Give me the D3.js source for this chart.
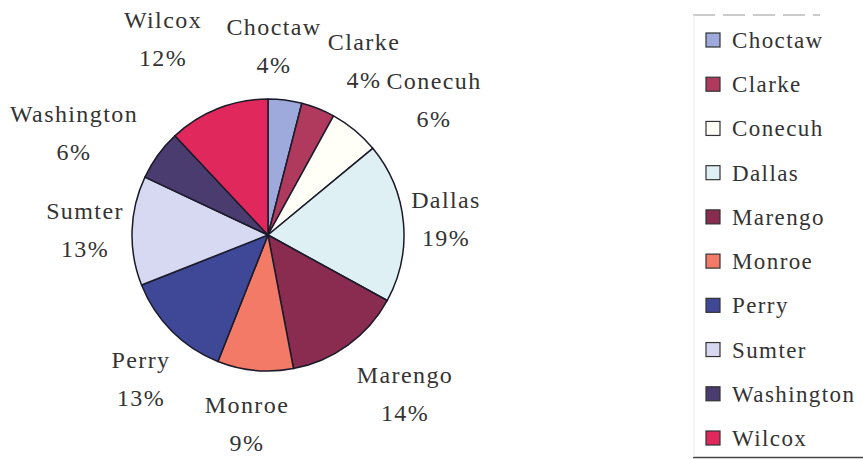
<!DOCTYPE html>
<html>
<head>
<meta charset="utf-8">
<script src="https://cdn.jsdelivr.net/npm/d3@7/dist/d3.min.js"></script>
<style>
html,body{margin:0;padding:0;background:#fff;}
</style>
</head>
<body>
<svg id="chart" width="863" height="459"></svg>
<script>
const categories = ["Choctaw","Clarke","Conecuh","Dallas","Marengo","Monroe","Perry","Sumter","Washington","Wilcox"];
const values = [4,4,6,19,14,9,13,13,6,12];
const colors = ["#9eaadc","#b03a5e","#fffff8","#dff0f4","#8a2b50","#f27a66","#3f4896","#d6d9f1","#4b3c70","#e0285c"];
// label anchor positions (centre x, baseline of name)
const labelPos = [[274,35],[364,50],[434,89],[446,208],[405,383],[247,413],[141,368],[85,219],[74,122],[163,28]];

const svg = d3.select("#chart");
const cx = 268, cy = 235, r = 136;
const FONT = '"Liberation Serif"';

const pie = d3.pie().sort(null).value(d => d.v);
const arc = d3.arc().innerRadius(0).outerRadius(r);
const data = categories.map((c,i)=>({c, v: values[i], col: colors[i]}));
const arcs = pie(data);

const g = svg.append("g").attr("transform",`translate(${cx},${cy})`);
g.selectAll("path").data(arcs).enter().append("path")
  .attr("d", arc)
  .attr("fill", d => d.data.col)
  .attr("stroke", "#1a1a2a")
  .attr("stroke-width", 1.5)
  .attr("stroke-linejoin","round");

const total = d3.sum(values);
const lbl = svg.append("g");
function txt(sel, x, y, s, size, anchor){
  return sel.append("text").attr("x",x).attr("y",y).attr("text-anchor",anchor)
    .style("font-family",FONT).style("font-size",size+"px")
    .style("letter-spacing","1.4px").style("fill","#333").text(s);
}
data.forEach((d,i)=>{
  const [x,y] = labelPos[i];
  txt(lbl, x, y, d.c, 24, "middle");
  txt(lbl, x, y+38, Math.round(d.v/total*100)+"%", 24, "middle");
});

// legend
const lg = svg.append("g");
lg.append("line").attr("x1",693).attr("x2",820).attr("y1",15).attr("y2",15)
  .attr("stroke","#bbb").attr("stroke-width",1.5).attr("stroke-dasharray","22,8");
lg.append("line").attr("x1",693).attr("x2",863).attr("y1",457.5).attr("y2",457.5)
  .attr("stroke","#444").attr("stroke-width",1.5);
lg.append("line").attr("x1",694).attr("x2",694).attr("y1",15).attr("y2",457)
  .attr("stroke","#eee").attr("stroke-width",1);
const ly = d3.scalePoint().domain(categories).range([40,438]);
categories.forEach((c,i)=>{
  const y = ly(c);
  lg.append("rect").attr("x",706).attr("y",y-7).attr("width",14).attr("height",14)
    .attr("fill",colors[i]).attr("stroke","#333").attr("stroke-width",1.2);
  txt(lg, 732, y+8, c, 23, "start");
});
</script>
</body>
</html>
